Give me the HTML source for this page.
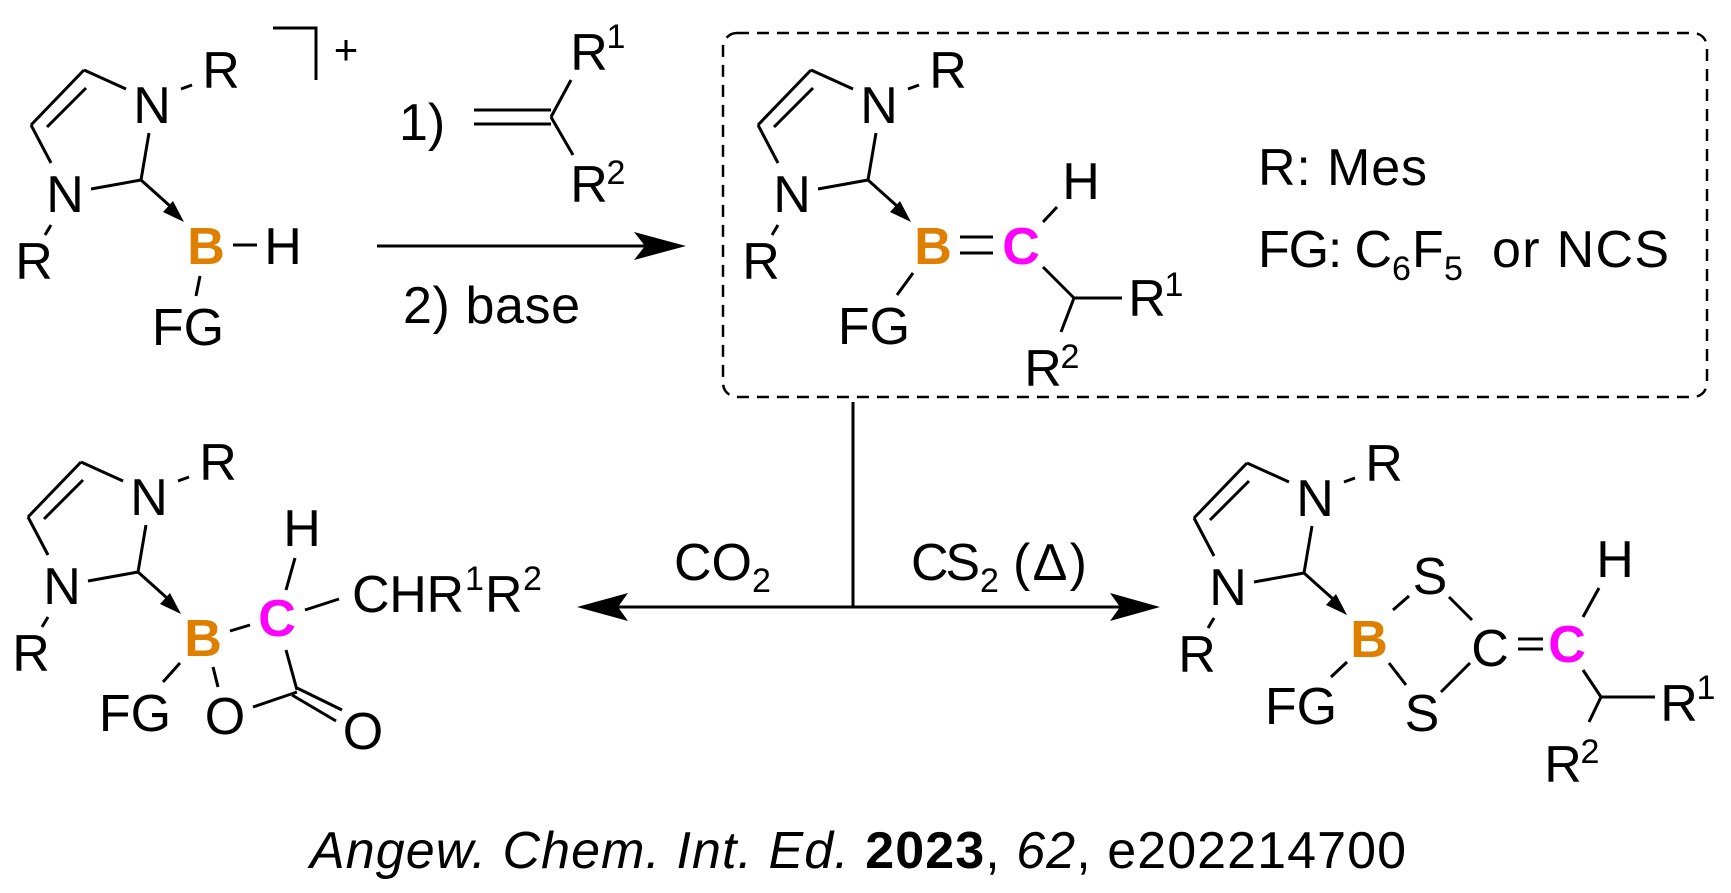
<!DOCTYPE html>
<html><head><meta charset="utf-8"><style>
html,body{margin:0;padding:0;background:#fff;}
svg{display:block;}
text{font-family:"Liberation Sans",sans-serif;font-size:52px;fill:#000;}
.s{font-size:34px;}
.b{font-weight:bold;fill:#DE7F00;}
.m{font-weight:bold;fill:#FF00FF;}
line,polyline{stroke:#000;stroke-width:3;fill:none;}
</style></head><body>
<svg width="1731" height="893" viewBox="0 0 1731 893" xmlns="http://www.w3.org/2000/svg">

<g>
<line x1="84" y1="70" x2="126" y2="89"/><line x1="84" y1="70" x2="31" y2="125"/><line x1="47" y1="127" x2="86" y2="88"/>
<line x1="31" y1="125" x2="51" y2="163"/><line x1="91" y1="189" x2="141" y2="180"/><line x1="141" y1="180" x2="149" y2="133"/>
<line x1="181" y1="89" x2="192" y2="85"/><line x1="51" y1="225" x2="45" y2="235"/><line x1="141" y1="180" x2="170" y2="206"/>
<polygon points="163,212 173,201 184,222" fill="#000"/>
<text text-anchor="middle" x="152" y="123">N</text>
<text text-anchor="middle" x="65" y="212">N</text>
<text text-anchor="middle" x="221" y="88">R</text>
<text text-anchor="middle" x="34" y="279">R</text>
<text class="b" text-anchor="middle" x="206" y="264">B</text>
</g>
<g transform="translate(727,0)">
<line x1="84" y1="70" x2="126" y2="89"/><line x1="84" y1="70" x2="31" y2="125"/><line x1="47" y1="127" x2="86" y2="88"/>
<line x1="31" y1="125" x2="51" y2="163"/><line x1="91" y1="189" x2="141" y2="180"/><line x1="141" y1="180" x2="149" y2="133"/>
<line x1="181" y1="89" x2="192" y2="85"/><line x1="51" y1="225" x2="45" y2="235"/><line x1="141" y1="180" x2="170" y2="206"/>
<polygon points="163,212 173,201 184,222" fill="#000"/>
<text text-anchor="middle" x="152" y="123">N</text>
<text text-anchor="middle" x="65" y="212">N</text>
<text text-anchor="middle" x="221" y="88">R</text>
<text text-anchor="middle" x="34" y="279">R</text>
<text class="b" text-anchor="middle" x="206" y="264">B</text>
</g>
<g transform="translate(-3,392)">
<line x1="84" y1="70" x2="126" y2="89"/><line x1="84" y1="70" x2="31" y2="125"/><line x1="47" y1="127" x2="86" y2="88"/>
<line x1="31" y1="125" x2="51" y2="163"/><line x1="91" y1="189" x2="141" y2="180"/><line x1="141" y1="180" x2="149" y2="133"/>
<line x1="181" y1="89" x2="192" y2="85"/><line x1="51" y1="225" x2="45" y2="235"/><line x1="141" y1="180" x2="170" y2="206"/>
<polygon points="163,212 173,201 184,222" fill="#000"/>
<text text-anchor="middle" x="152" y="123">N</text>
<text text-anchor="middle" x="65" y="212">N</text>
<text text-anchor="middle" x="221" y="88">R</text>
<text text-anchor="middle" x="34" y="279">R</text>
<text class="b" text-anchor="middle" x="206" y="264">B</text>
</g>
<g transform="translate(1163,393)">
<line x1="84" y1="70" x2="126" y2="89"/><line x1="84" y1="70" x2="31" y2="125"/><line x1="47" y1="127" x2="86" y2="88"/>
<line x1="31" y1="125" x2="51" y2="163"/><line x1="91" y1="189" x2="141" y2="180"/><line x1="141" y1="180" x2="149" y2="133"/>
<line x1="181" y1="89" x2="192" y2="85"/><line x1="51" y1="225" x2="45" y2="235"/><line x1="141" y1="180" x2="170" y2="206"/>
<polygon points="163,212 173,201 184,222" fill="#000"/>
<text text-anchor="middle" x="152" y="123">N</text>
<text text-anchor="middle" x="65" y="212">N</text>
<text text-anchor="middle" x="221" y="88">R</text>
<text text-anchor="middle" x="34" y="279">R</text>
<text class="b" text-anchor="middle" x="206" y="264">B</text>
</g>

<!-- Molecule 1 extras -->
<line x1="233" y1="245" x2="257" y2="245"/>
<text text-anchor="middle" x="283" y="264">H</text>
<line x1="200" y1="276" x2="196" y2="296"/>
<text text-anchor="middle" x="188" y="345">FG</text>
<polyline points="273,28 316,28 316,80"/>
<text text-anchor="middle" style="font-size:42px" x="346" y="64">+</text>

<!-- Reagents -->
<text x="399" y="140">1)</text>
<line x1="474" y1="110" x2="551" y2="110"/><line x1="474" y1="124" x2="551" y2="124"/>
<line x1="551" y1="117" x2="571" y2="80"/><line x1="551" y1="117" x2="573" y2="155"/>
<text text-anchor="middle" x="589" y="70">R</text>
<text class="s" text-anchor="middle" x="616" y="48">1</text>
<text text-anchor="middle" x="589" y="202">R</text>
<text class="s" text-anchor="middle" x="616" y="184">2</text>
<line x1="377" y1="246" x2="645" y2="246"/>
<polygon points="686,246 634,232 645,246 634,260" fill="#000"/>
<text x="403" y="323" textLength="177">2) base</text>

<!-- Box -->
<rect x="723" y="33" width="984" height="364" rx="14" fill="none" stroke="#000" stroke-width="2.5" stroke-dasharray="12 8"/>

<!-- Molecule 2 extras -->
<line x1="960" y1="237" x2="993" y2="237"/><line x1="960" y1="253" x2="993" y2="253"/>
<text class="m" text-anchor="middle" x="1021" y="264">C</text>
<line x1="1043" y1="222" x2="1057" y2="207"/>
<text text-anchor="middle" x="1081" y="199">H</text>
<line x1="1043" y1="267" x2="1074" y2="298"/><line x1="1074" y1="298" x2="1122" y2="298"/><line x1="1074" y1="298" x2="1061" y2="332"/>
<text text-anchor="middle" x="1147" y="316">R</text>
<text class="s" text-anchor="middle" x="1174" y="296">1</text>
<text text-anchor="middle" x="1043" y="386">R</text>
<text class="s" text-anchor="middle" x="1070" y="368">2</text>
<line x1="913" y1="273" x2="897" y2="295"/>
<text text-anchor="middle" x="874" y="344">FG</text>
<text x="1258" y="185" textLength="169">R: Mes</text>
<text x="1258" y="267" textLength="134">FG: C</text>
<text class="s" x="1392" y="280">6</text>
<text x="1412" y="267">F</text>
<text class="s" x="1444" y="280">5</text>
<text x="1492" y="267" textLength="177">or NCS</text>

<!-- Reaction arrows -->
<line x1="853" y1="402" x2="853" y2="607"/>
<line x1="618" y1="607" x2="1120" y2="607"/>
<polygon points="577,607 628,593 618,607 628,621" fill="#000"/>
<polygon points="1160,607 1110,593 1120,607 1110,621" fill="#000"/>
<text x="674" y="580">CO</text>
<text class="s" x="752" y="592">2</text>
<text x="911" y="580" textLength="69">CS</text>
<text class="s" x="980" y="592">2</text>
<text x="1013" y="580" textLength="74">(Δ)</text>

<!-- Molecule 3 extras -->
<line x1="230" y1="631" x2="250" y2="625"/>
<text class="m" text-anchor="middle" x="277" y="636">C</text>
<line x1="286" y1="590" x2="295" y2="558"/>
<text text-anchor="middle" x="302" y="546">H</text>
<line x1="305" y1="610" x2="339" y2="599"/>
<text x="352" y="612" textLength="112">CHR</text>
<text class="s" x="465" y="590">1</text>
<text x="485" y="612">R</text>
<text class="s" x="523" y="590">2</text>
<line x1="286" y1="650" x2="297" y2="690"/>
<line x1="213" y1="667" x2="218" y2="687"/>
<line x1="253" y1="707" x2="297" y2="692"/>
<line x1="297" y1="688" x2="342" y2="710"/><line x1="292" y1="695" x2="336" y2="721"/>
<line x1="180" y1="663" x2="163" y2="682"/>
<text text-anchor="middle" x="135" y="731">FG</text>
<text text-anchor="middle" x="225" y="734">O</text>
<text text-anchor="middle" x="363" y="749">O</text>

<!-- Molecule 4 extras -->
<text text-anchor="middle" x="1430" y="594">S</text>
<text text-anchor="middle" x="1422" y="731">S</text>
<text text-anchor="middle" x="1490" y="666">C</text>
<text class="m" text-anchor="middle" x="1567" y="662">C</text>
<line x1="1393" y1="610" x2="1409" y2="596"/><line x1="1449" y1="597" x2="1472" y2="620"/>
<line x1="1389" y1="663" x2="1406" y2="685"/><line x1="1441" y1="692" x2="1470" y2="663"/>
<line x1="1518" y1="639" x2="1543" y2="639"/><line x1="1518" y1="649" x2="1543" y2="649"/>
<line x1="1583" y1="617" x2="1599" y2="588"/>
<text text-anchor="middle" x="1615" y="577">H</text>
<line x1="1583" y1="670" x2="1601" y2="697"/><line x1="1601" y1="697" x2="1655" y2="697"/><line x1="1601" y1="697" x2="1589" y2="722"/>
<text text-anchor="middle" x="1679" y="721">R</text>
<text class="s" text-anchor="middle" x="1706" y="699">1</text>
<text text-anchor="middle" x="1563" y="782">R</text>
<text class="s" text-anchor="middle" x="1590" y="763">2</text>
<line x1="1347" y1="662" x2="1331" y2="677"/>
<text text-anchor="middle" x="1301" y="724">FG</text>

<!-- Caption -->
<text x="310" y="868" textLength="1096"><tspan font-style="italic">Angew. Chem. Int. Ed.</tspan> <tspan font-weight="bold">2023</tspan>, <tspan font-style="italic">62</tspan>, e202214700</text>
</svg>
</body></html>
